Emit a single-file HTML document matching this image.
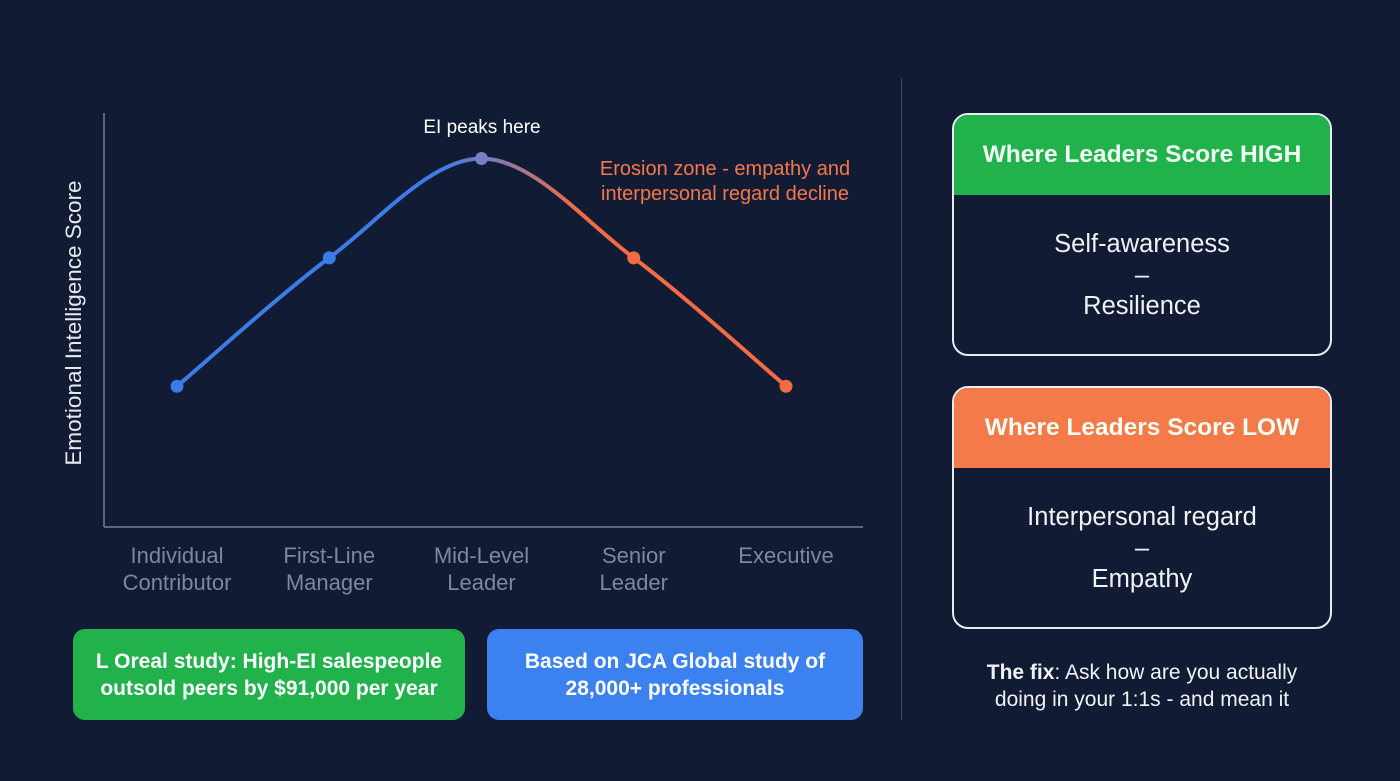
<!DOCTYPE html>
<html><head><meta charset="utf-8"><style>
body{margin:0;background:#111b33;width:1400px;height:781px;overflow:hidden;font-family:"Liberation Sans",sans-serif;position:relative}
.card{position:absolute;left:952px;width:376px;border:2px solid #e8ecf2;border-radius:16px;overflow:hidden;background:#111b33}
.card .hd{height:80px;display:flex;align-items:center;justify-content:center;color:#f2fff4;font-weight:bold;font-size:24.5px}
.card .bd{text-align:center;color:#f0f2f6;font-size:25.5px;line-height:31px;padding-top:34px}
.box{position:absolute;top:629px;height:91px;border-radius:12px;color:#fff;font-weight:bold;font-size:21px;line-height:27px;display:flex;align-items:center;justify-content:center;text-align:center}
</style></head><body>
<svg width="900" height="620" style="position:absolute;left:0;top:0">
<defs><linearGradient id="g" gradientUnits="userSpaceOnUse" x1="440" y1="0" x2="580" y2="0">
<stop offset="0" stop-color="#3b7be8"/><stop offset="0.35" stop-color="#7a7ab8"/><stop offset="1" stop-color="#f26b45"/></linearGradient></defs>
<g id="axes"></g><g id="plot"></g>
</svg>
<div style="position:absolute;left:74px;top:323px;transform:translate(-50%,-50%) rotate(-90deg);color:#e6e9ef;font-size:22.5px;white-space:nowrap">Emotional Intelligence Score</div>
<div style="position:absolute;left:482px;top:117px;transform:translateX(-50%);color:#fff;font-size:19px;white-space:nowrap">EI peaks here</div>
<div style="position:absolute;left:725px;top:157px;transform:translateX(-50%);color:#f4774d;font-size:20px;line-height:25px;text-align:center;white-space:nowrap">Erosion zone - empathy and<br>interpersonal regard decline</div>
<div style="position:absolute;left:901px;top:78px;width:1px;height:642px;background:#3a4560"></div>
<div class="card" style="top:113px;height:239px">
<div class="hd" style="background:#22b24c">Where Leaders Score HIGH</div>
<div class="bd">Self-awareness<br>–<br>Resilience</div></div>
<div class="card" style="top:386px;height:239px">
<div class="hd" style="background:#f47a4a">Where Leaders Score LOW</div>
<div class="bd">Interpersonal regard<br>–<br>Empathy</div></div>
<div style="position:absolute;left:962px;width:360px;top:659px;text-align:center;color:#f0f2f6;font-size:21px;line-height:27px"><b>The fix</b>: Ask how are you actually doing in your 1:1s - and mean it</div>
<div class="box" style="left:73px;width:392px;background:#22b24c">L Oreal study: High-EI salespeople<br>outsold peers by $91,000 per year</div>
<div class="box" style="left:487px;width:376px;background:#3b82f0">Based on JCA Global study of<br>28,000+ professionals</div>
<script>
const categories=[["Individual","Contributor"],["First-Line","Manager"],["Mid-Level","Leader"],["Senior","Leader"],["Executive"]];
const scores=[34,65,89,65,34];
const colors=["#3b7be8","#3b7be8","#7c7cc0","#f26b45","#f26b45"];
const NS="http://www.w3.org/2000/svg";
const x=i=>177+i*152.25, y=v=>527-v*4.14;
const axes=document.getElementById('axes'),plot=document.getElementById('plot');
function mk(t,a,p){const e=document.createElementNS(NS,t);for(const k in a)e.setAttribute(k,a[k]);p.appendChild(e);return e;}
const ya=mk('line',{x1:104,y1:113,x2:104,y2:527,stroke:'#5a6480','stroke-width':2},axes);


const xa=mk('line',{x1:104,y1:527,x2:863,y2:527,stroke:'#5a6480','stroke-width':2},axes);


categories.forEach((c,i)=>{const t=mk('text',{x:x(i),'text-anchor':'middle',fill:'#7d879e','font-size':22,'font-family':'Liberation Sans'},axes);


c.forEach((l,j)=>{const s=mk('tspan',{x:x(i),y:563+j*27},t);s.textContent=l;});});
const P=scores.map((v,i)=>[x(i),y(v)]);
let d=`M${P[0][0]},${P[0][1]}`;
for(let i=0;i<P.length-1;i++){const p0=P[Math.max(i-1,0)],p1=P[i],p2=P[i+1],p3=P[Math.min(i+2,P.length-1)];
const c1=[p1[0]+(p2[0]-p0[0])/6,p1[1]+(p2[1]-p0[1])/6],c2=[p2[0]-(p3[0]-p1[0])/6,p2[1]-(p3[1]-p1[1])/6];
d+=` C${c1[0]},${c1[1]} ${c2[0]},${c2[1]} ${p2[0]},${p2[1]}`;}
const line=mk('path',{d:d,fill:'none',stroke:'url(#g)','stroke-width':4,'stroke-linecap':'round'},plot);


P.forEach((p,i)=>{const c=mk('circle',{cx:p[0],cy:p[1],r:6.5,fill:colors[i]},plot);

});
</script>
</body></html>
